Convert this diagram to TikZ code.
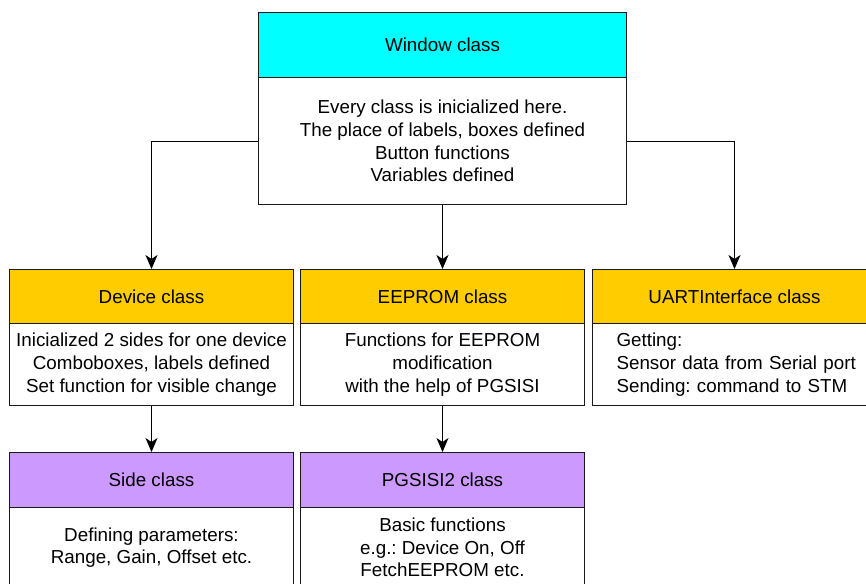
\documentclass[tikz,border=0pt]{standalone}
\usepackage{fontspec}
\setmainfont{Liberation Sans}
\usetikzlibrary{arrows.meta}
\definecolor{cyanhead}{HTML}{00FFFF}
\definecolor{orangehead}{HTML}{FFCC00}
\definecolor{purplehead}{HTML}{CC99FF}
\frenchspacing
\begin{document}
\frenchspacing
\begin{tikzpicture}[x=1pt,y=-1pt,
  box/.style={draw=black!90, line width=1pt, rectangle, inner sep=0pt, anchor=north west,
    font=\fontsize{18.8}{22.7}\selectfont\frenchspacing, align=center},
  cls/.style={minimum width=284pt},
  conn/.style={draw=black, line width=1pt, -{Stealth[length=14pt,width=12pt,inset=4pt]}}
]
\useasboundingbox (0,0) rectangle (866,583);
\clip (0,0) rectangle (866,583);

% Window class
\node[box, fill=cyanhead, minimum width=368pt, minimum height=65pt] (winh) at (258,12) {Window class};
\node[box, fill=white, minimum width=368pt, minimum height=127pt] (winb) at (258,77)
  {Every class is inicialized here.\\The place of labels, boxes defined\\Button functions\\Variables defined};

% Device class
\node[box, cls, fill=orangehead, minimum height=54pt] (devh) at (9,269) {Device class};
\node[box, cls, fill=white, minimum height=82pt] (devb) at (9,323)
  {Inicialized 2 sides for one device\\Comboboxes, labels defined\\Set function for visible change};

% EEPROM class
\node[box, cls, fill=orangehead, minimum height=54pt] (eeh) at (300,269) {EEPROM class};
\node[box, cls, fill=white, minimum height=82pt] (eeb) at (300,323)
  {Functions for EEPROM\\modification\\with the help of PGSISI};

% UARTInterface class
\node[box, cls, fill=orangehead, minimum height=54pt] (uarth) at (592,269) {UARTInterface class};
\node[box, fill=white, minimum height=82pt, text width=236pt, inner xsep=24pt, align=left] (uartb) at (592,323)
  {Getting:\\\mbox{Sensor data from Serial port}\\\mbox{Sending: command to STM}};

% Side class
\node[box, cls, fill=purplehead, minimum height=55pt] (sideh) at (9,452) {Side class};
\node[box, cls, fill=white, minimum height=80pt] (sideb) at (9,507)
  {Defining parameters:\\Range, Gain, Offset etc.};

% PGSISI2 class
\node[box, cls, fill=purplehead, minimum height=55pt] (pgh) at (300,452) {PGSISI2 class};
\node[box, cls, fill=white, minimum height=80pt] (pgb) at (300,507)
  {Basic functions\\e.g.: Device On, Off\\FetchEEPROM etc.};

% connectors
\draw[conn] (winb.south) -- (eeh.north);
\draw[conn] (winb.west) -| (devh.north);
\draw[conn] (winb.east) -| (uarth.north);
\draw[conn] (devb.south) -- (sideh.north);
\draw[conn] (eeb.south) -- (pgh.north);
\end{tikzpicture}
\end{document}
